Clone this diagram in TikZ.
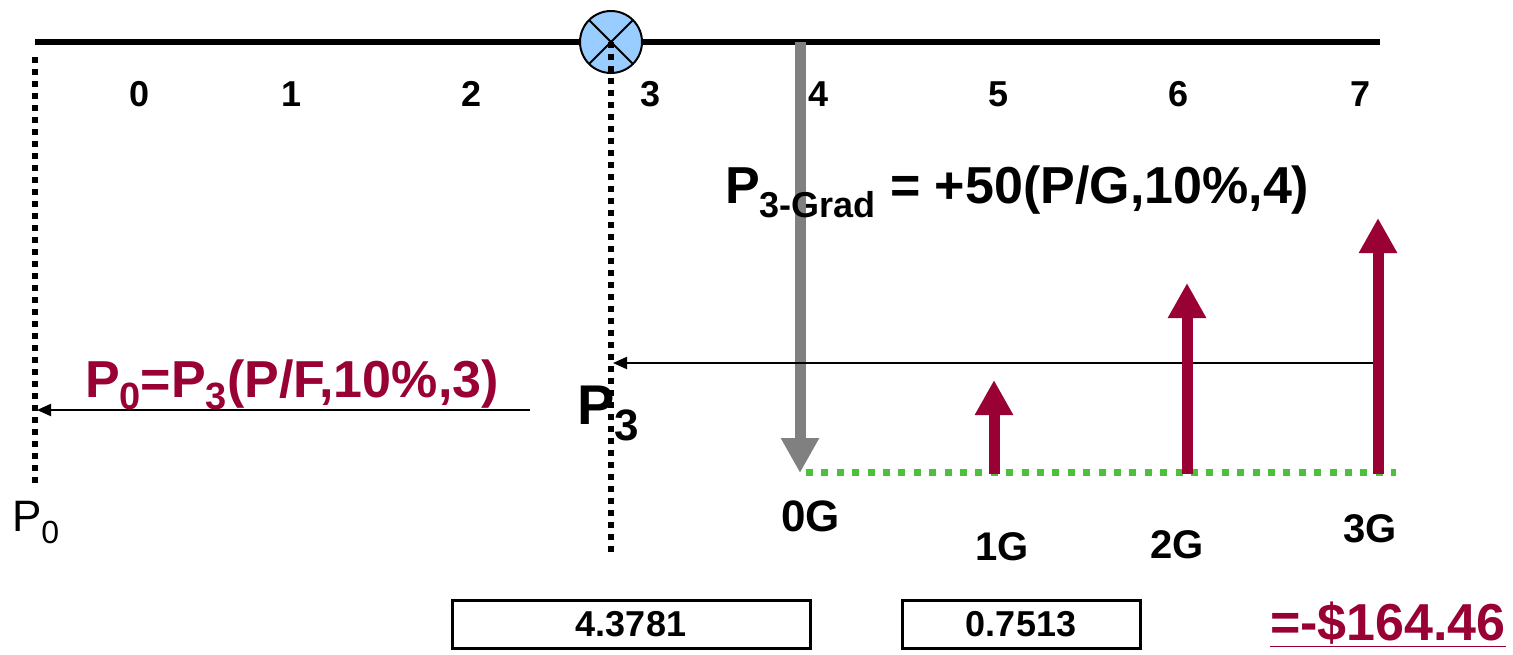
\documentclass[tikz,border=0pt]{standalone}
\usepackage{fontspec}
\setmainfont{Liberation Sans}
\usetikzlibrary{arrows.meta}
\definecolor{wine}{HTML}{990033}
\definecolor{ltblue}{HTML}{99CCFF}
\definecolor{dotgreen}{HTML}{4CBF3C}
\definecolor{arrgray}{HTML}{808080}
\newcommand{\fs}[1]{\fontsize{#1}{#1}\selectfont}
\newcommand{\lowsub}[3]{\raisebox{-#2}{\fs{#1}#3}}
\begin{document}
\begin{tikzpicture}[x=0.5pt,y=-0.5pt,
  every node/.style={inner sep=0pt, outer sep=0pt},
  ticklbl/.style={font=\fs{18pt}\bfseries, anchor=base},
  glbl/.style={font=\fs{20pt}\bfseries, anchor=base west},
  vdots/.style={line width=3pt, dash pattern=on 3pt off 3pt},
  thinarr/.style={line width=1pt, -{Triangle[width=6pt,length=7pt]}},
  fatarr/.style={line width=5.5pt, -{Triangle[width=18pt,length=17.5pt]}},
  valbox/.style={draw, line width=1.5pt, font=\fs{18pt}\bfseries}
]
\useasboundingbox (0,0) rectangle (1513,654);

% timeline
\coordinate (tlL) at (35,42);
\coordinate (tlR) at (1380,42);
\draw[line width=3pt] (tlL) -- (tlR);

% dotted vertical at period 0
\coordinate (d0t) at (35,57);
\coordinate (d0b) at (35,485);
\draw[vdots] (d0t) -- (d0b);

% marker circle
\node[circle, draw, line width=1pt, fill=ltblue, minimum size=31pt] (mark) at (611,42) {};
\draw[line width=1pt] (mark.north west) -- (mark.south east);
\draw[line width=1pt] (mark.north east) -- (mark.south west);

% dotted vertical at P3, from the circle centre down
\coordinate (d3b) at (611,553);
\draw[vdots] (mark.center) -- (d3b);

% period labels
\node[ticklbl] (t0) at (140,106) {0};
\node[ticklbl] (t1) at (292,106) {1};
\node[ticklbl] (t2) at (472,106) {2};
\node[ticklbl] (t3) at (651,106) {3};
\node[ticklbl] (t4) at (818,106) {4};
\node[ticklbl] (t5) at (998,106) {5};
\node[ticklbl] (t6) at (1178,106) {6};
\node[ticklbl] (t7) at (1360,106) {7};

% gray arrow
\coordinate (gtop) at (800,42);
\coordinate (gbot) at (800,473);
\draw[fatarr, arrgray] (gtop) -- (gbot);

% green dotted base
\coordinate (gl) at (806,472);
\coordinate (gr) at (1396,472);
\draw[dotgreen, line width=3.5pt, dash pattern=on 3.5pt off 4.2pt] (gl) -- (gr);

% equation 2
\node[anchor=base west, font=\fs{26pt}\bfseries] (eqgrad) at (725,203)
  {P\lowsub{18pt}{7pt}{3-Grad} = +50(P/G,10\%,4)};

% thin arrows
\coordinate (a1s) at (1375,363);
\coordinate (a1e) at (613,363);
\draw[thinarr] (a1s) -- (a1e);
\coordinate (a2s) at (530,410);
\coordinate (a2e) at (37,410);
\draw[thinarr] (a2s) -- (a2e);

% equation 1
\node[anchor=base west, font=\fs{26pt}\bfseries, text=wine] (eqpf) at (85,397)
  {P\lowsub{19pt}{6pt}{0}=P\lowsub{19pt}{6pt}{3}(P/F,10\%,3)};

% P3 and P0
\node[anchor=base west, font=\fs{28pt}\bfseries] (p3) at (577,424)
  {P\lowsub{22pt}{8pt}{3}};
\node[anchor=base west, font=\fs{22pt}] (p0) at (12,531)
  {P\lowsub{16pt}{6pt}{0}};

% red gradient arrows
\coordinate (r1b) at (994,474);
\coordinate (r1t) at (994,380);
\coordinate (r2b) at (1187,474);
\coordinate (r2t) at (1187,283);
\coordinate (r3b) at (1378,474);
\coordinate (r3t) at (1378,218);
\draw[fatarr, wine] (r1b) -- (r1t);
\draw[fatarr, wine] (r2b) -- (r2t);
\draw[fatarr, wine] (r3b) -- (r3t);

% G labels
\node[anchor=base west, font=\fs{22pt}\bfseries] (g0) at (781,531) {0G};
\node[glbl] (g1) at (975,560) {1G};
\node[glbl] (g2) at (1150,558) {2G};
\node[glbl] (g3) at (1343,542) {3G};

% value boxes
\node[valbox, minimum width=179pt, minimum height=24pt] (bx1) at (631,624) {4.3781};
\node[valbox, minimum width=119pt, minimum height=24pt] (bx2) at (1021,624) {0.7513};

% result
\node[anchor=base west, font=\fs{26pt}\bfseries, text=wine] (res) at (1270,640)
  {\underline{=-\$164.46}};
\end{tikzpicture}
\end{document}
